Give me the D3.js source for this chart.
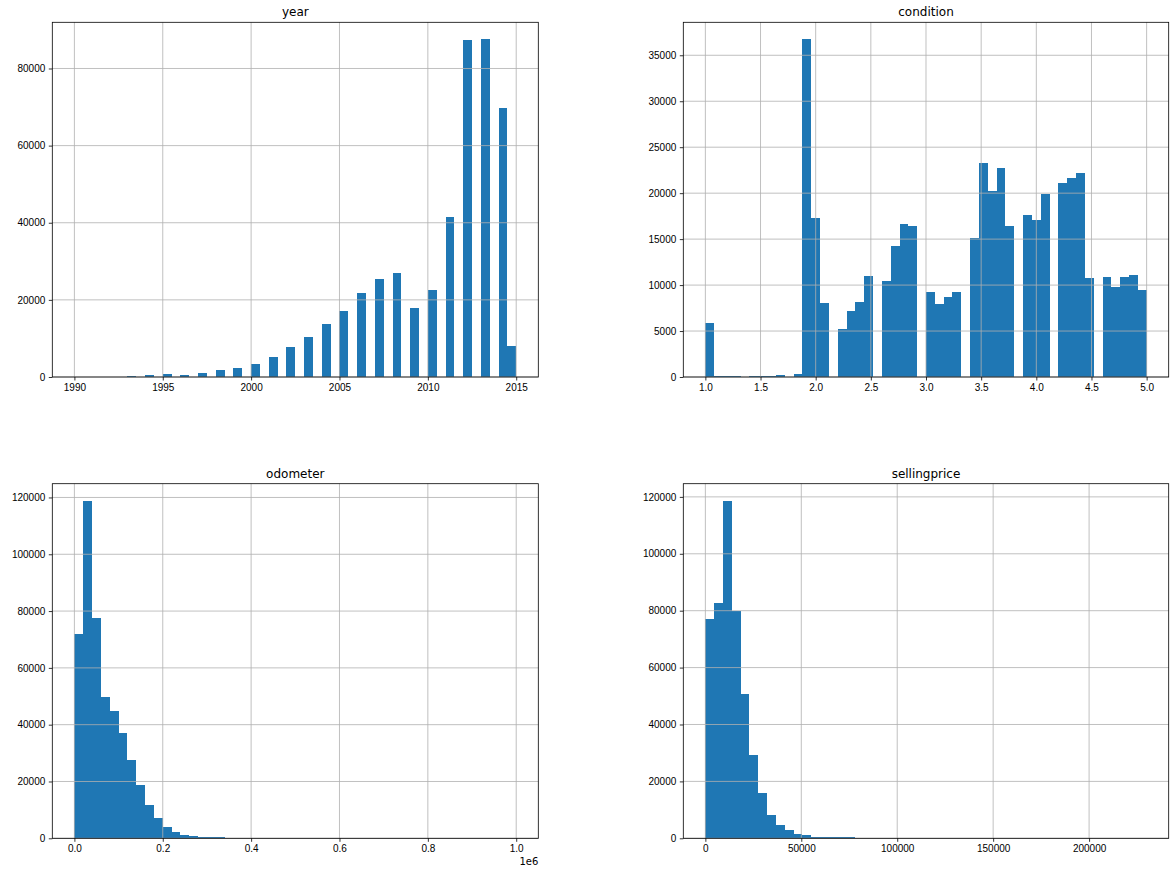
<!DOCTYPE html>
<html>
<head>
<meta charset="utf-8">
<script src="https://cdn.jsdelivr.net/npm/d3@7"></script>
<style>
  body { margin: 0; background: #fff; }
  svg { display: block; font-family: "DejaVu Sans", sans-serif; }
  .tick text { font-size: 10px; fill: #000; }
  .tick line { stroke: #000; stroke-width: 0.8; }
  rect.bar { shape-rendering: crispEdges; }
</style>
</head>
<body>
<svg id="chart" width="1175" height="875"></svg>
<script>
// counts per bin (50 bins each)
const yearCounts = [
  20, 0, 50, 0, 100, 0, 350, 0, 400, 0,
  650, 0, 600, 0, 1100, 0, 1700, 0, 2400, 0,
  3450, 0, 5250, 0, 7850, 0, 10450, 0, 13800, 0,
  17200, 0, 21850, 0, 25450, 0, 27000, 0, 17950, 0,
  22600, 0, 41500, 0, 87350, 0, 87600, 0, 69700, 8100
];
const conditionCounts = [
  5900, 150, 150, 150, 0, 150, 150, 150, 250, 0,
  350, 36750, 17300, 8100, 0, 5250, 7200, 8200, 11000, 0,
  10450, 14300, 16650, 16450, 0, 9300, 7950, 8700, 9300, 0,
  15150, 23300, 20250, 22750, 16450, 0, 17650, 17100, 19900, 0,
  21100, 21650, 22200, 10800, 0, 10900, 9800, 10900, 11100, 9500
];
const odometerCounts = [
  71900, 118900, 77500, 49700, 44800, 37050, 27550, 18750, 11700, 7150,
  4000, 2250, 1200, 850, 500, 450, 400, 120, 60, 40,
  25, 15, 10, 0, 0, 0, 0, 0, 0, 0,
  0, 0, 0, 0, 0, 0, 0, 0, 0, 0,
  0, 0, 0, 0, 0, 0, 0, 0, 0, 72
];
const sellingpriceCounts = [
  76950, 82550, 118700, 79800, 50650, 29250, 15900, 8200, 4700, 2900,
  1550, 1150, 500, 450, 420, 400, 380, 60, 40, 25,
  15, 10, 5, 0, 0, 0, 0, 0, 0, 0,
  0, 0, 0, 0, 0, 0, 0, 0, 0, 0,
  0, 0, 0, 0, 0, 0, 0, 0, 0, 1
];

// data ranges (min, max) of each column
const yearRange = [1990, 2015];
const conditionRange = [1, 5];
const odometerRange = [0, 999999];
const sellingpriceRange = [1, 230000];

// tick values
const yearXTicks = [1990, 1995, 2000, 2005, 2010, 2015];
const yearYTicks = [0, 20000, 40000, 60000, 80000];
const conditionXTicks = [1.0, 1.5, 2.0, 2.5, 3.0, 3.5, 4.0, 4.5, 5.0];
const conditionYTicks = [0, 5000, 10000, 15000, 20000, 25000, 30000, 35000];
const odometerXTicks = [0, 200000, 400000, 600000, 800000, 1000000];
const odometerYTicks = [0, 20000, 40000, 60000, 80000, 100000, 120000];
const sellingpriceXTicks = [0, 50000, 100000, 150000, 200000];
const sellingpriceYTicks = [0, 20000, 40000, 60000, 80000, 100000, 120000];

const panels = [
  { title: 'year', counts: yearCounts, range: yearRange, xTicks: yearXTicks, yTicks: yearYTicks,
    fmt: d3.format('d'), left: 52.3, top: 22.3, width: 486, height: 354.7 },
  { title: 'condition', counts: conditionCounts, range: conditionRange, xTicks: conditionXTicks, yTicks: conditionYTicks,
    fmt: d3.format('.1f'), left: 683.3, top: 22.3, width: 485.4, height: 354.7 },
  { title: 'odometer', counts: odometerCounts, range: odometerRange, xTicks: odometerXTicks, yTicks: odometerYTicks,
    fmt: v => (v / 1e6).toFixed(1), offset: '1e6', left: 52.3, top: 483.7, width: 486, height: 354.6 },
  { title: 'sellingprice', counts: sellingpriceCounts, range: sellingpriceRange, xTicks: sellingpriceXTicks, yTicks: sellingpriceYTicks,
    fmt: d3.format('d'), left: 683.3, top: 483.7, width: 485.4, height: 354.6 }
];

const svg = d3.select('#chart');

panels.forEach(p => {
  const [lo, hi] = p.range;
  const pad = (hi - lo) * 0.05;
  const nBins = p.counts.length;
  const edges = d3.range(nBins + 1).map(i => lo + i * (hi - lo) / nBins);
  const yMax = d3.max(p.counts) * 1.05;

  const x = d3.scaleLinear().domain([lo - pad, hi + pad]).range([0, p.width]);
  const y = d3.scaleLinear().domain([0, yMax]).range([p.height, 0]);

  const g = svg.append('g').attr('transform', `translate(${p.left},${p.top})`);

  g.selectAll('rect.bar')
    .data(p.counts.map((c, i) => ({ c, x0: edges[i], x1: edges[i + 1] })).filter(d => d.c > 0))
    .enter()
    .append('rect')
    .attr('class', 'bar')
    .attr('x', d => x(d.x0))
    .attr('width', d => x(d.x1) - x(d.x0))
    .attr('y', d => y(d.c))
    .attr('height', d => y(0) - y(d.c))
    .attr('fill', '#1f77b4');

  // grid on top of the bars, like matplotlib
  g.selectAll('line.vgrid')
    .data(p.xTicks)
    .enter()
    .append('line')
    .attr('x1', d => x(d)).attr('x2', d => x(d))
    .attr('y1', 0).attr('y2', p.height)
    .attr('stroke', '#b0b0b0').attr('stroke-width', 0.8);
  g.selectAll('line.hgrid')
    .data(p.yTicks)
    .enter()
    .append('line')
    .attr('x1', 0).attr('x2', p.width)
    .attr('y1', d => y(d)).attr('y2', d => y(d))
    .attr('stroke', '#b0b0b0').attr('stroke-width', 0.8);

  g.append('g')
    .attr('transform', `translate(0,${p.height})`)
    .call(d3.axisBottom(x).tickValues(p.xTicks).tickFormat(p.fmt).tickSize(3.5).tickPadding(3.5))
    .call(a => a.select('.domain').remove())
    .call(a => a.selectAll('text').attr('font-family', null).attr('font-size', null));
  g.append('g')
    .call(d3.axisLeft(y).tickValues(p.yTicks).tickFormat(d3.format('d')).tickSize(3.5).tickPadding(3.5))
    .call(a => a.select('.domain').remove())
    .call(a => a.selectAll('text').attr('font-family', null).attr('font-size', null));

  g.append('rect')
    .attr('width', p.width)
    .attr('height', p.height)
    .attr('fill', 'none')
    .attr('stroke', '#000')
    .attr('stroke-width', 0.8);

  g.append('text')
    .attr('x', p.width / 2)
    .attr('y', -6)
    .attr('text-anchor', 'middle')
    .attr('font-size', 12)
    .text(p.title);

  if (p.offset) {
    g.append('text')
      .attr('x', p.width)
      .attr('y', p.height + 27)
      .attr('text-anchor', 'end')
      .attr('font-size', 10)
      .text(p.offset);
  }
});
</script>
</body>
</html>
